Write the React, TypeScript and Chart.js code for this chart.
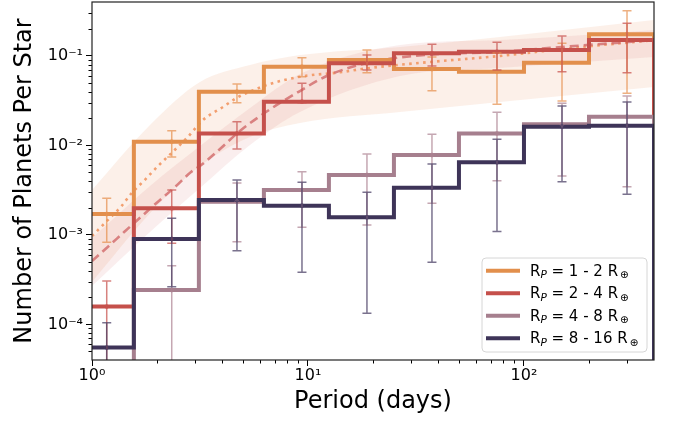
import React, { useEffect, useRef } from 'react';
import { Chart, registerables } from 'chart.js';

Chart.register(...registerables);

// ---------- data ----------
const periodEdges = [0.78125, 1.5625, 3.125, 6.25, 12.5, 25, 50, 100, 200, 400];
const binCenters = [1.17, 2.34, 4.69, 9.38, 18.75, 37.5, 75, 150, 300];
const radiusRanges = ['1 - 2', '2 - 4', '4 - 8', '8 - 16'];

const occ1to2 = [1.71e-3, 0.011, 0.0398, 0.0757, 0.09, 0.0713, 0.0665, 0.084, 0.175];
const occ2to4 = [1.58e-4, 1.98e-3, 0.0136, 0.0308, 0.0826, 0.107, 0.111, 0.116, 0.15];
const occ4to8 = [0, 2.42e-4, 2.35e-3, 3.17e-3, 4.67e-3, 7.8e-3, 0.0136, 0.0172, 0.0209];
const occ8to16 = [5.5e-5, 9.0e-4, 2.45e-3, 2.12e-3, 1.57e-3, 3.37e-3, 6.47e-3, 0.0162, 0.0166];

const err1to2Hi = [2.56e-3, 0.0146, 0.0485, 0.0955, 0.116, 0.097, 0.108, 0.138, 0.32];
const err1to2Lo = [8.3e-4, 7.41e-3, 0.03, 0.0585, 0.0649, 0.0408, 0.0288, 0.0313, 0.0382];
const err2to4Hi = [3.05e-4, 3.17e-3, 0.0184, 0.0494, 0.102, 0.135, 0.142, 0.167, 0.231];
const err2to4Lo = [0, 8.05e-4, 9.12e-3, 0.03, 0.0695, 0.0771, 0.0695, 0.0666, 0.0649];
const err4to8Hi = [null, 4.53e-4, 3.8e-3, 5.08e-3, 8.01e-3, 0.0133, 0.0234, 0.0295, 0.0356];
const err4to8Lo = [null, 0, 8.39e-4, 1.22e-3, 1.29e-3, 2.25e-3, 4.03e-3, 4.55e-3, 3.45e-3];
const err8to16Hi = [1.04e-4, 1.53e-3, 4.1e-3, 3.87e-3, 2.99e-3, 6.19e-3, 0.0117, 0.0275, 0.0305];
const err8to16Lo = [0, 2.64e-4, 6.65e-4, 3.82e-4, 1.33e-4, 4.94e-4, 1.09e-3, 3.93e-3, 2.84e-3];

// fit curves
const fitSmallPeriods = [1, 1.186, 1.366, 1.52, 1.754, 2.021, 2.415, 2.783, 3.265, 4.054, 4.677, 5.39, 6.44, 9.18, 14.07, 18.7, 38.0, 77.4, 157.7, 400];
const fitSmallValues = [9.7e-4, 1.47e-3, 2.08e-3, 2.9e-3, 4.1e-3, 5.88e-3, 8.88e-3, 0.0125, 0.0192, 0.027, 0.034, 0.0398, 0.0473, 0.0585, 0.0655, 0.0726, 0.0861, 0.0998, 0.121, 0.15];
const fitLargePeriods = [1, 1.186, 1.417, 1.691, 2.021, 2.415, 2.883, 3.162, 3.915, 4.84, 6.44, 9.18, 12.21, 18.7, 24.8, 38.0, 77.4, 157.7, 400];
const fitLargeValues = [5.1e-4, 7.38e-4, 1.09e-3, 1.6e-3, 2.35e-3, 3.4e-3, 5.08e-3, 5.88e-3, 9.12e-3, 0.0145, 0.0239, 0.0405, 0.0596, 0.0832, 0.094, 0.104, 0.111, 0.127, 0.15];

const bandPeriods = [1, 1.856, 3.162, 5.39, 9.18, 26.7, 77.4, 400];
const bandSmallHi = [3.17e-3, 0.0169, 0.0511, 0.0791, 0.102, 0.126, 0.163, 0.252];
const bandSmallLo = [2.98e-4, 1.75e-3, 5.88e-3, 0.0124, 0.0178, 0.0236, 0.0305, 0.0449];
const bandLargeHi = [9.23e-4, 3.52e-3, 9.84e-3, 0.0262, 0.0628, 0.132, 0.15, 0.195];
const bandLargeLo = [2.69e-4, 1.08e-3, 3.34e-3, 0.0101, 0.0236, 0.0596, 0.0732, 0.0971];

const xTickValues = [1, 10, 100];
const xTickLabels = ['10\u2070', '10\u00B9', '10\u00B2'];
const yTickValues = [1e-4, 1e-3, 1e-2, 1e-1];
const yTickLabels = ['10\u207B\u2074', '10\u207B\u00B3', '10\u207B\u00B2', '10\u207B\u00B9'];

const X_MIN = 1;
const X_MAX = 400;
const Y_MIN = 4e-5;
const Y_MAX = 0.4;
const FLOOR = 1e-8;

const colors = ['#E28F4C', '#C5504B', '#A67F8E', '#3E3458'];
const errColors = ['rgba(230,145,80,0.72)', 'rgba(200,82,78,0.72)', 'rgba(172,130,146,0.7)', 'rgba(70,60,98,0.72)'];

const series = [
  { values: occ1to2, hi: err1to2Hi, lo: err1to2Lo },
  { values: occ2to4, hi: err2to4Hi, lo: err2to4Lo },
  { values: occ4to8, hi: err4to8Hi, lo: err4to8Lo },
  { values: occ8to16, hi: err8to16Hi, lo: err8to16Lo },
];

const FONT = "'DejaVu Sans', 'Liberation Sans', sans-serif";

function stepPoints(values: number[]) {
  const f = (v: number) => (v > 0 ? v : FLOOR);
  const pts = [{ x: periodEdges[0], y: FLOOR }];
  values.forEach((v, i) => pts.push({ x: periodEdges[i], y: f(v) }));
  pts.push({ x: periodEdges[periodEdges.length - 1], y: f(values[values.length - 1]) });
  pts.push({ x: periodEdges[periodEdges.length - 1], y: FLOOR });
  return pts;
}

function zipXY(xs: number[], ys: number[]) {
  return xs.map((x, i) => ({ x, y: ys[i] }));
}

const decorPlugin = {
  id: 'decor',
  afterDatasetsDraw(chart: any) {
    const { ctx, chartArea, scales } = chart;
    const xs = scales.x;
    const ys = scales.y;
    ctx.save();
    ctx.beginPath();
    ctx.rect(chartArea.left, chartArea.top, chartArea.right - chartArea.left, chartArea.bottom - chartArea.top);
    ctx.clip();
    series.forEach((s, si) => {
      ctx.strokeStyle = errColors[si];
      binCenters.forEach((c, i) => {
        const hi = s.hi[i];
        const lo = s.lo[i];
        if (hi == null) return;
        const px = xs.getPixelForValue(c);
        const pHi = ys.getPixelForValue(hi);
        const pLo = lo && lo > 0 ? ys.getPixelForValue(lo) : chartArea.bottom + 20;
        ctx.lineWidth = 1.5;
        ctx.beginPath();
        ctx.moveTo(px, pHi);
        ctx.lineTo(px, pLo);
        ctx.moveTo(px - 4.5, pHi);
        ctx.lineTo(px + 4.5, pHi);
        if (lo && lo > 0) {
          ctx.moveTo(px - 4.5, pLo);
          ctx.lineTo(px + 4.5, pLo);
        }
        ctx.stroke();
        const v = s.values[i];
        if (v > 0) {
          ctx.beginPath();
          ctx.lineWidth = 0.8;
          ctx.arc(px, ys.getPixelForValue(v), 2, 0, Math.PI * 2);
          ctx.stroke();
        }
      });
    });
    ctx.restore();
  },
  afterDraw(chart: any) {
    const { ctx, chartArea, scales } = chart;
    const xs = scales.x;
    const ys = scales.y;
    const { left, right, top, bottom } = chartArea;
    ctx.save();
    // minor ticks
    ctx.strokeStyle = '#000';
    ctx.lineWidth = 1;
    ctx.beginPath();
    [1, 10, 100].forEach((d) => {
      for (let m = 2; m <= 9; m++) {
        const v = m * d;
        if (v <= X_MIN || v >= X_MAX) continue;
        const px = Math.round(xs.getPixelForValue(v)) + 0.5;
        ctx.moveTo(px, bottom);
        ctx.lineTo(px, bottom + 3.5);
      }
    });
    [1e-5, 1e-4, 1e-3, 1e-2, 1e-1].forEach((d) => {
      for (let m = 2; m <= 9; m++) {
        const v = m * d;
        if (v <= Y_MIN || v >= Y_MAX) continue;
        const py = Math.round(ys.getPixelForValue(v)) + 0.5;
        ctx.moveTo(left, py);
        ctx.lineTo(left - 3.5, py);
      }
    });
    ctx.stroke();
    // frame
    ctx.strokeStyle = '#222';
    ctx.lineWidth = 1.2;
    ctx.strokeRect(left, top, right - left, bottom - top);

    // legend
    const bx = 482, by = 258, bw = 165, bh = 94, r = 4;
    ctx.beginPath();
    ctx.moveTo(bx + r, by);
    ctx.arcTo(bx + bw, by, bx + bw, by + bh, r);
    ctx.arcTo(bx + bw, by + bh, bx, by + bh, r);
    ctx.arcTo(bx, by + bh, bx, by, r);
    ctx.arcTo(bx, by, bx + bw, by, r);
    ctx.closePath();
    ctx.fillStyle = 'rgba(255,255,255,0.85)';
    ctx.fill();
    ctx.strokeStyle = '#d6d6d6';
    ctx.lineWidth = 1;
    ctx.stroke();
    const rowY = [270.7, 293.2, 315.7, 338.2];
    radiusRanges.forEach((rng, i) => {
      const yy = rowY[i];
      ctx.strokeStyle = colors[i];
      ctx.lineWidth = 4;
      ctx.beginPath();
      ctx.moveTo(486, yy);
      ctx.lineTo(520, yy);
      ctx.stroke();
      ctx.fillStyle = '#000';
      ctx.textBaseline = 'alphabetic';
      ctx.textAlign = 'left';
      let tx = 530;
      const base = yy + 5;
      ctx.font = `15px ${FONT}`;
      ctx.fillText('R', tx, base);
      tx += ctx.measureText('R').width;
      ctx.font = `italic 10.5px ${FONT}`;
      ctx.fillText('P', tx, base + 2.5);
      tx += ctx.measureText('P').width;
      ctx.font = `15px ${FONT}`;
      const mid = ` = ${rng} R`;
      ctx.fillText(mid, tx, base);
      tx += ctx.measureText(mid).width + 2;
      ctx.font = `10.5px ${FONT}`;
      ctx.fillText('\u2295', tx, base + 2.5);
    });
    ctx.restore();
  },
};

export default function App() {
  const canvasRef = useRef<HTMLCanvasElement | null>(null);

  useEffect(() => {
    document.body.style.margin = '0';
    const canvas = canvasRef.current;
    if (!canvas) return;

    const datasets: any[] = [
      {
        label: 'band small',
        data: zipXY(bandPeriods, bandSmallHi),
        borderWidth: 0,
        pointRadius: 0,
        backgroundColor: 'rgba(236,150,100,0.14)',
        fill: '+1',
        cubicInterpolationMode: 'monotone',
        order: 20,
      },
      {
        label: 'band small lo',
        data: zipXY(bandPeriods, bandSmallLo),
        borderWidth: 0,
        pointRadius: 0,
        fill: false,
        cubicInterpolationMode: 'monotone',
        order: 19,
      },
      {
        label: 'band large',
        data: zipXY(bandPeriods, bandLargeHi),
        borderWidth: 0,
        pointRadius: 0,
        backgroundColor: 'rgba(205,90,90,0.1)',
        fill: '+1',
        cubicInterpolationMode: 'monotone',
        order: 18,
      },
      {
        label: 'band large lo',
        data: zipXY(bandPeriods, bandLargeLo),
        borderWidth: 0,
        pointRadius: 0,
        fill: false,
        cubicInterpolationMode: 'monotone',
        order: 17,
      },
      {
        label: 'fit small',
        data: zipXY(fitSmallPeriods, fitSmallValues),
        borderColor: 'rgba(242,150,98,0.9)',
        borderWidth: 2.6,
        borderDash: [2.6, 4.4],
        pointRadius: 0,
        fill: false,
        cubicInterpolationMode: 'monotone',
        order: 16,
      },
      {
        label: 'fit large',
        data: zipXY(fitLargePeriods, fitLargeValues),
        borderColor: 'rgba(212,112,112,0.85)',
        borderWidth: 2.6,
        borderDash: [9, 5],
        pointRadius: 0,
        fill: false,
        cubicInterpolationMode: 'monotone',
        order: 15,
      },
    ];
    series.forEach((s, i) => {
      datasets.push({
        label: radiusRanges[i],
        data: stepPoints(s.values),
        borderColor: colors[i],
        borderWidth: 4,
        stepped: 'before',
        pointRadius: 0,
        fill: false,
        borderJoinStyle: 'miter',
        borderCapStyle: 'butt',
        order: 4 - i,
      });
    });

    const chart = new Chart(canvas, {
      type: 'line',
      data: { datasets },
      options: {
        animation: false,
        responsive: false,
        devicePixelRatio: 1,
        parsing: true,
        layout: { padding: { left: 0, right: 19, top: 2, bottom: 0 } },
        plugins: {
          legend: { display: false },
          tooltip: { enabled: false },
        },
        scales: {
          x: {
            type: 'logarithmic',
            min: X_MIN,
            max: X_MAX,
            afterBuildTicks: (scale: any) => {
              scale.ticks = xTickValues.map((v) => ({ value: v }));
            },
            afterFit: (scale: any) => {
              scale.height = 62;
              scale.paddingLeft = 0;
              scale.paddingRight = 0;
            },
            grid: { display: true, drawOnChartArea: false, drawTicks: true, tickLength: 6, tickColor: '#000', tickWidth: 1 },
            border: { display: false },
            ticks: {
              autoSkip: false,
              maxRotation: 0,
              padding: 0,
              color: '#000',
              font: { family: FONT, size: 16 },
              callback: (_v: any, i: number) => xTickLabels[i],
            },
            title: {
              display: true,
              text: 'Period (days)',
              color: '#000',
              font: { family: FONT, size: 24 },
              padding: { top: 0, bottom: 6 },
            },
          },
          y: {
            type: 'logarithmic',
            min: Y_MIN,
            max: Y_MAX,
            afterBuildTicks: (scale: any) => {
              scale.ticks = yTickValues.map((v) => ({ value: v }));
            },
            afterFit: (scale: any) => {
              scale.width = 92;
              scale.paddingTop = 0;
              scale.paddingBottom = 0;
            },
            grid: { display: true, drawOnChartArea: false, drawTicks: true, tickLength: 6, tickColor: '#000', tickWidth: 1 },
            border: { display: false },
            ticks: {
              autoSkip: false,
              padding: 3,
              color: '#000',
              font: { family: FONT, size: 16 },
              callback: (_v: any, i: number) => yTickLabels[i],
            },
            title: {
              display: true,
              text: 'Number of Planets Per Star',
              color: '#000',
              font: { family: FONT, size: 24 },
              padding: { top: 10, bottom: 0 },
            },
          },
        },
      },
      plugins: [decorPlugin],
    });

    return () => chart.destroy();
  }, []);

  return (
    <div style={{ width: 673, height: 422 }}>
      <canvas ref={canvasRef} width={673} height={422} style={{ display: 'block', width: 673, height: 422 }} />
    </div>
  );
}
